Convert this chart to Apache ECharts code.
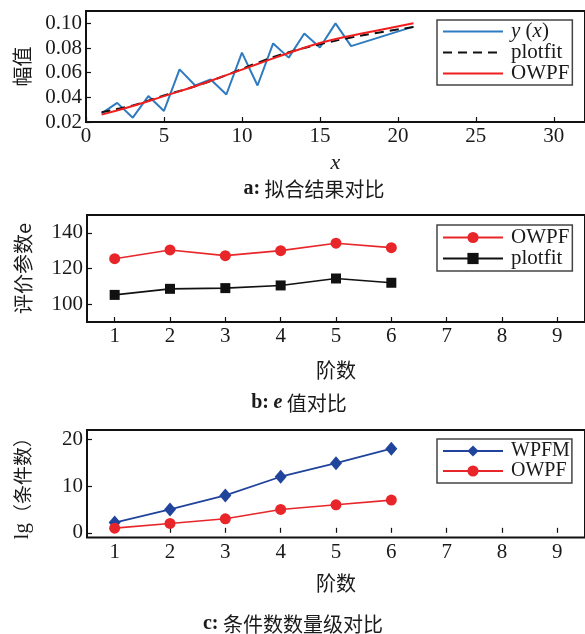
<!DOCTYPE html>
<html>
<head>
<meta charset="utf-8">
<script src="https://cdn.jsdelivr.net/npm/echarts@6/dist/echarts.min.js"></script>
<style>
  body { margin: 0; background: #fff; }
  .panel { position: absolute; left: 0; width: 585px; }
</style>
</head>
<body>
<div id="chartA" class="panel" style="top:0;height:200px"></div>
<div id="chartB" class="panel" style="top:200px;height:215px"></div>
<div id="chartC" class="panel" style="top:415px;height:219px"></div>
<script>
// ---- (a) measured samples y(x) and the two fitted curves ----
const sampleX = [1, 2, 3, 4, 5, 6, 7, 8, 9, 10, 11, 12, 13, 14, 15, 16, 17, 21];
const sampleY = [0.027, 0.0355, 0.0235, 0.041, 0.029, 0.0627, 0.0496, 0.0545, 0.0423, 0.0763,
                 0.0496, 0.0837, 0.0722, 0.0918, 0.0804, 0.100, 0.0815, 0.0973];
const fitX = [1, 3, 5, 7, 9, 11, 13, 15, 17, 19, 21];
const plotfitY = [0.028, 0.0335, 0.0415, 0.049, 0.058, 0.068, 0.0765, 0.083, 0.0885, 0.093, 0.097];
const owpfY = [0.026, 0.033, 0.041, 0.049, 0.058, 0.067, 0.076, 0.084, 0.090, 0.095, 0.100];
const xTicksA = [0, 5, 10, 15, 20, 25, 30];
const ampTicks = [0.02, 0.04, 0.06, 0.08, 0.10];

// ---- (b) evaluation parameter e per order ----
const orders = [1, 2, 3, 4, 5, 6];
const orderTicks = [1, 2, 3, 4, 5, 6, 7, 8, 9];
const eOWPF = [125.5, 130.4, 127.2, 130.0, 134.2, 131.7];
const ePlotfit = [105.2, 108.6, 109.0, 110.5, 114.4, 112.0];
const eTicks = [100, 120, 140];

// ---- (c) lg(condition number) per order ----
const lgWPFM = [2.2, 5.0, 8.0, 12.0, 14.9, 18.0];
const lgOWPF = [1.0, 2.0, 3.0, 5.0, 6.0, 7.0];
const lgTicks = [0, 10, 20];

const SERIF = '"Liberation Serif", "Times New Roman", serif';
const CJK = '"Noto Sans CJK SC", "Noto Sans", sans-serif';
const INK = '#1a1a1a';

function pairs(xs, ys) { return xs.map((x, i) => [x, ys[i]]); }

function valueAxis(o) {
  return Object.assign({
    type: 'value',
    axisLine: { show: false },
    splitLine: { show: false },
    axisTick: { show: true, inside: true, length: 5, lineStyle: { color: '#111', width: 1.2 },
                customValues: o.ticks },
    axisLabel: { color: INK, fontFamily: SERIF, fontSize: 21, margin: 4,
                 customValues: o.ticks, formatter: o.fmt },
    nameLocation: 'middle'
  }, o.extra);
}

function legendBox(o) {
  return Object.assign({
    orient: 'vertical',
    backgroundColor: '#fff',
    borderColor: '#444',
    borderWidth: 1.5,
    borderRadius: 0,
    itemWidth: 60,
    itemHeight: 14,
    itemGap: 0,
    selectedMode: false
  }, o);
}

function caption(x, y, text) {
  return {
    type: 'text', x: x, y: y,
    style: {
      text: text, align: 'center', verticalAlign: 'middle',
      fill: INK, font: '20px ' + CJK,
      rich: {
        b: { fontFamily: SERIF, fontWeight: 'bold', fontSize: 20, fill: INK },
        bi: { fontFamily: SERIF, fontWeight: 'bold', fontStyle: 'italic', fontSize: 20, fill: INK },
        c: { fontFamily: CJK, fontSize: 20, fill: INK }
      }
    }
  };
}

const gridStyle = { show: true, borderColor: '#111', borderWidth: 2, backgroundColor: 'transparent' };

// ---------- panel (a) ----------
echarts.init(document.getElementById('chartA')).setOption({
  animation: false,
  grid: Object.assign({ left: 86, top: 11, width: 509, height: 111 }, gridStyle),
  xAxis: valueAxis({
    ticks: xTicksA,
    extra: { min: 0, max: 32, name: 'x', nameGap: 22,
             nameTextStyle: { fontFamily: SERIF, fontStyle: 'italic', fontSize: 22, color: INK } }
  }),
  yAxis: valueAxis({
    ticks: ampTicks, fmt: v => v.toFixed(2),
    extra: { min: 0.02, max: 0.11, name: '幅值', nameGap: 54, nameRotate: 90,
             nameTextStyle: { fontFamily: CJK, fontSize: 20, color: INK } }
  }),
  legend: legendBox({
    left: 437, top: 20, padding: [1, 3, 1, 5],
    data: ['y(x)', 'plotfit', 'OWPF'],
    itemStyle: { opacity: 0 },
    formatter: n => n === 'y(x)' ? '{i|y} ({i|x})' : n,
    textStyle: { color: INK, fontFamily: SERIF, fontSize: 21, lineHeight: 21, padding: [0, 0, 0, 3],
                 rich: { i: { fontStyle: 'italic', fontFamily: SERIF, fontSize: 21, color: INK } } }
  }),
  graphic: [caption(314, 189, '{b|a:} {c|拟合结果对比}')],
  series: [
    { name: 'y(x)', type: 'line', data: pairs(sampleX, sampleY), symbol: 'none',
      lineStyle: { color: '#2f7bc0', width: 2 }, itemStyle: { color: '#2f7bc0' }, z: 2 },
    { name: 'plotfit', type: 'line', data: pairs(fitX, plotfitY), symbol: 'none', smooth: true,
      lineStyle: { color: '#111', width: 2, type: [9, 6] }, itemStyle: { color: '#111' }, z: 3 },
    { name: 'OWPF', type: 'line', data: pairs(fitX, owpfY), symbol: 'none', smooth: true,
      lineStyle: { color: '#f01e1e', width: 2 }, itemStyle: { color: '#f01e1e' }, z: 4 }
  ]
});

// ---------- panel (b) ----------
echarts.init(document.getElementById('chartB')).setOption({
  animation: false,
  grid: Object.assign({ left: 87, top: 15, width: 528, height: 107 }, gridStyle),
  xAxis: valueAxis({
    ticks: orderTicks,
    extra: { min: 0.5, max: 9.5, name: '阶数', nameGap: 38,
             nameTextStyle: { fontFamily: CJK, fontSize: 20, color: INK } }
  }),
  yAxis: valueAxis({
    ticks: eTicks,
    extra: { min: 90, max: 150, name: '评价参数e', nameGap: 54, nameRotate: 90,
             nameTextStyle: { fontFamily: CJK, fontSize: 20, color: INK } }
  }),
  legend: legendBox({
    left: 437, top: 25, padding: [2, 3, 2, 5],
    data: ['OWPF', 'plotfit'],
    textStyle: { color: INK, fontFamily: SERIF, fontSize: 21, lineHeight: 19.5, padding: [0, 0, 0, 3] }
  }),
  graphic: [caption(299, 203, '{b|b:} {bi|e} {c|值对比}')],
  series: [
    { name: 'OWPF', type: 'line', data: pairs(orders, eOWPF), symbol: 'circle', symbolSize: 11,
      lineStyle: { color: '#e8262a', width: 1.6 }, itemStyle: { color: '#e8262a' } },
    { name: 'plotfit', type: 'line', data: pairs(orders, ePlotfit), symbol: 'rect', symbolSize: 10,
      lineStyle: { color: '#111', width: 1.6 }, itemStyle: { color: '#111' } }
  ]
});

// ---------- panel (c) ----------
echarts.init(document.getElementById('chartC')).setOption({
  animation: false,
  grid: Object.assign({ left: 87, top: 15, width: 528, height: 107.5 }, gridStyle),
  xAxis: valueAxis({
    ticks: orderTicks,
    extra: { min: 0.5, max: 9.5, name: '阶数', nameGap: 36,
             nameTextStyle: { fontFamily: CJK, fontSize: 20, color: INK } }
  }),
  yAxis: valueAxis({
    ticks: lgTicks,
    extra: { min: -1, max: 22, name: '{s|lg}{c|（条件数）}', nameGap: 54, nameRotate: 90,
             nameTextStyle: { fontFamily: CJK, fontSize: 20, color: INK,
                              rich: { s: { fontFamily: SERIF, fontSize: 21, color: INK },
                                      c: { fontFamily: CJK, fontSize: 19, color: INK } } } }
  }),
  legend: legendBox({
    left: 437, top: 24, padding: [2, 2, 2, 5],
    data: ['WPFM', 'OWPF'],
    textStyle: { color: INK, fontFamily: SERIF, fontSize: 20, lineHeight: 19, padding: [0, 0, 0, 3] }
  }),
  graphic: [caption(293, 209, '{b|c:} {c|条件数数量级对比}')],
  series: [
    { name: 'WPFM', type: 'line', data: pairs(orders, lgWPFM), symbol: 'diamond', symbolSize: [12, 14],
      lineStyle: { color: '#20449c', width: 1.8 }, itemStyle: { color: '#20449c' } },
    { name: 'OWPF', type: 'line', data: pairs(orders, lgOWPF), symbol: 'circle', symbolSize: 11,
      lineStyle: { color: '#e8262a', width: 1.6 }, itemStyle: { color: '#e8262a' } }
  ]
});
</script>
</body>
</html>
